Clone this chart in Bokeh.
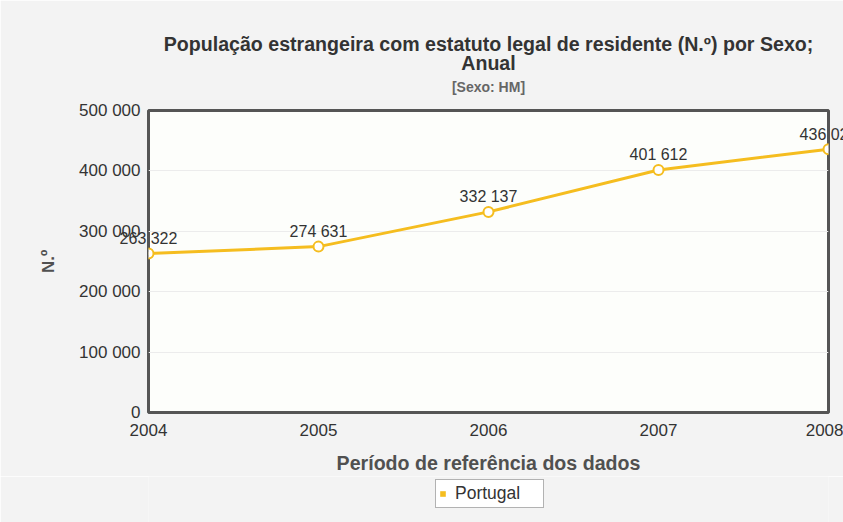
from bokeh.plotting import figure
from bokeh.layouts import column
from bokeh.models import (ColumnDataSource, Legend, LegendItem, Title,
                          FixedTicker, Range1d)
from bokeh.core.properties import value
from bokeh.embed import file_html
from bokeh.resources import INLINE

# ---- data ----
years = [2004, 2005, 2006, 2007, 2008]
values = [263322, 274631, 332137, 401612, 436020]
y_ticks = [0, 100000, 200000, 300000, 400000, 500000]
y_tick_labels = ["0", "100 000", "200 000", "300 000", "400 000", "500 000"]
x_tick_labels = ["2004", "2005", "2006", "2007", "2008"]
series_name = "Portugal"
title_line1 = "População estrangeira com estatuto legal de residente (N.º) por Sexo;"
title_line2 = "Anual"
subtitle = "[Sexo: HM]"
x_label = "Período de referência dos dados"
y_label = "N.º"

def fmt(v):
    return f"{v:,}".replace(",", " ")

labels = [fmt(v) for v in values]
src = ColumnDataSource(dict(x=years, y=values, lab=labels))

FONT = "Liberation Sans"
LINE = "#f5bd1f"
BG = "#f3f3f3"

p = figure(width=843, height=476, output_backend="svg", toolbar_location=None,
           x_range=Range1d(2004, 2008), y_range=Range1d(0, 500000),
           min_border_left=148, min_border_right=15, min_border_top=110,
           min_border_bottom=64, background_fill_color="#fdfefb",
           border_fill_color=BG, outline_line_color="#555555",
           outline_line_width=3)

p.title.text = title_line1
p.title.align = "center"
p.title.text_font = FONT
p.title.text_font_size = "19.6px"
p.title.text_font_style = "bold"
p.title.text_color = "#333333"
p.title.standoff = 11

t3 = Title(text=subtitle, align="center", text_font=FONT,
           text_font_size="14px", text_font_style="bold", text_color="#666666",
           standoff=32)
p.add_layout(t3, "above")
t2 = Title(text=title_line2, align="center", text_font=FONT,
           text_font_size="19.6px", text_font_style="bold", text_color="#333333",
           standoff=-27)
p.add_layout(t2, "above")

# axes
p.xaxis.ticker = FixedTicker(ticks=years)
p.xaxis.major_label_overrides = {y: l for y, l in zip(years, x_tick_labels)}
p.yaxis.ticker = FixedTicker(ticks=y_ticks)
p.yaxis.major_label_overrides = {t: l for t, l in zip(y_ticks, y_tick_labels)}
for ax in (p.xaxis, p.yaxis):
    ax.axis_line_color = None
    ax.major_tick_line_color = None
    ax.minor_tick_line_color = None
    ax.major_label_text_font = FONT
    ax.major_label_text_font_size = "17px"
    ax.major_label_text_color = "#333333"
    ax.axis_label_text_font = FONT
    ax.axis_label_text_font_style = "bold"
    ax.axis_label_text_color = "#505050"
p.xaxis.axis_label = x_label
p.xaxis.axis_label_text_font_size = "19.6px"
p.xaxis.major_label_standoff = 5
p.xaxis.axis_label_standoff = 13
p.yaxis.axis_label = y_label
p.yaxis.axis_label_text_font_size = "17px"
p.yaxis.major_label_standoff = 2
p.yaxis.axis_label_standoff = 18

p.xgrid.grid_line_color = None
p.ygrid.grid_line_color = "#ececec"
p.ygrid.grid_line_width = 1

# series
p.line("x", "y", source=src, line_color=LINE, line_width=3)
p.scatter("x", "y", source=src, size=10, fill_color="white", line_color=LINE,
          line_width=2)
p.text("x", "y", text="lab", source=src, text_align="center",
       text_baseline="alphabetic", y_offset=-15, text_font=value(FONT),
       text_font_size="16px", text_color="#333333", level="overlay")

# legend strip below the chart (its swatch renderer uses the series data,
# which lies outside this strip's ranges, so only the legend is visible)
lg = figure(width=843, height=46, output_backend="svg", toolbar_location=None,
            x_range=Range1d(0, 1), y_range=Range1d(0, 1),
            x_axis_location=None, y_axis_location=None,
            min_border=0, background_fill_color=BG, border_fill_color=BG,
            outline_line_color=None)
lg.xgrid.visible = False
lg.ygrid.visible = False
leg_glyph = lg.quad(left="x", right="x", top="y", bottom="y", source=src,
                    fill_color=LINE, line_color=None)
legend = Legend(items=[LegendItem(label=series_name, renderers=[leg_glyph])],
                orientation="horizontal", location=(287, 14),
                label_text_font=FONT, label_text_font_size="17.5px",
                label_text_color="#333333", border_line_color="#666666",
                border_line_width=1.5, background_fill_color="white",
                background_fill_alpha=1.0,
                glyph_width=7, glyph_height=7, label_standoff=9,
                label_height=16, label_width=85, padding=3, margin=0,
                spacing=0)
lg.add_layout(legend, "center")

layout = column(p, lg, spacing=0)
open("out.html", "w").write(file_html(layout, INLINE))
